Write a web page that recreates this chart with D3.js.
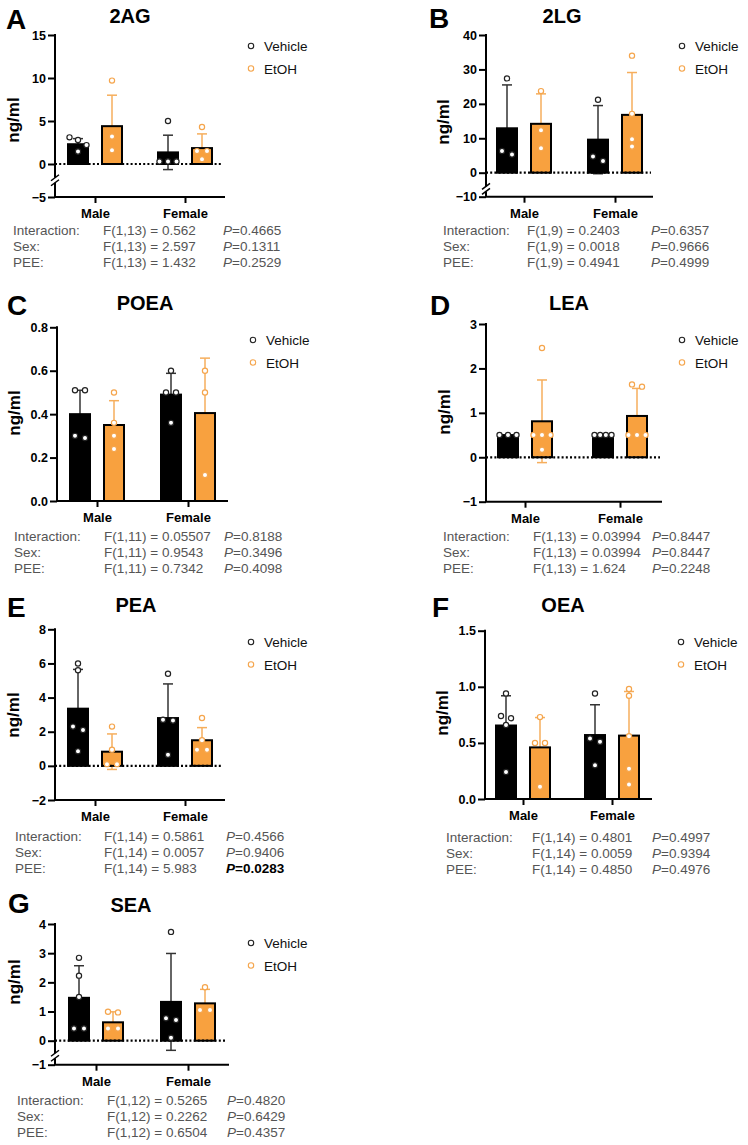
<!DOCTYPE html>
<html>
<meta charset="utf-8" />
<title>Endocannabinoid levels</title>
<head>
    <script src="https://d3js.org/d3.v7.min.js"></script>
    <style>
        body { margin: 0; background: #fff; }
        svg text { font-family: "Liberation Sans", Arial, sans-serif; }
    </style>
</head>
<body>
<div id="fig"></div>
<script type="text/javascript">
    // ---- data ----
    const letters = ["A", "B", "C", "D", "E", "F", "G"];
    const analytes = ["2AG", "2LG", "POEA", "LEA", "PEA", "OEA", "SEA"];
    const sexes = ["Male", "Female"];
    const treatments = ["Vehicle", "EtOH"];
    const yTicks = [
        [-5, 0, 5, 10, 15],
        [-10, 0, 10, 20, 30, 40],
        [0, 0.2, 0.4, 0.6, 0.8],
        [-1, 0, 1, 2, 3],
        [-2, 0, 2, 4, 6, 8],
        [0, 0.5, 1.0, 1.5],
        [-1, 0, 1, 2, 3, 4]
    ];
    const tickFormats = [".0f", ".0f", ".1f", ".0f", ".0f", ".1f", ".0f"];
    const axisBreaks = [-1.6, -4, null, null, null, null, -0.43];

    // order: Male Vehicle, Male EtOH, Female Vehicle, Female EtOH
    const means = [
        [2.3, 4.4, 1.35, 1.85],
        [12.9, 14.2, 9.6, 16.8],
        [0.40, 0.35, 0.49, 0.405],
        [0.5, 0.81, 0.5, 0.93],
        [3.35, 0.83, 2.8, 1.5],
        [0.655, 0.46, 0.57, 0.565],
        [1.47, 0.63, 1.33, 1.28]
    ];
    const sds = [
        [0.65, 3.6, 2.0, 1.65],
        [12.6, 8.7, 9.9, 12.3],
        [0.11, 0.112, 0.098, 0.253],
        [0, 0.93, 0, 0.62],
        [2.3, 1.04, 2.0, 0.74],
        [0.265, 0.266, 0.27, 0.393],
        [1.1, 0.36, 1.66, 0.48]
    ];
    const points = [
        [[3.1, 2.8, 2.2, 1.45], [9.7, 3.2, 1.6], [5.0, 0.3, 0.3, 0.3], [4.3, 1.5, 1.5, 0.55]],
        [[27.4, 6.3, 5.3], [23.7, 12.3, 7.1], [21.2, 4.7, 3.4], [34, 17.1, 9.7, 7.6]],
        [[0.51, 0.51, 0.30, 0.29], [0.50, 0.36, 0.30, 0.24], [0.60, 0.50, 0.50, 0.36], [0.60, 0.50, 0.12]],
        [[0.5, 0.5, 0.5], [2.46, 0.5, 0.5, 0.5, 0.17], [0.5, 0.5, 0.5, 0.5], [1.64, 1.59, 0.5, 0.5, 0.5]],
        [[6.0, 5.6, 2.3, 2.1, 0.85], [2.3, 0.95, 0.1, 0.1], [5.4, 2.7, 2.65, 0.65], [2.8, 1.5, 0.95, 0.95]],
        [[0.94, 0.74, 0.72, 0.66, 0.24], [0.73, 0.5, 0.5, 0.11], [0.94, 0.54, 0.51, 0.30], [0.98, 0.92, 0.56, 0.27, 0.13]],
        [[2.84, 2.23, 1.5, 0.42, 0.42], [0.99, 0.97, 0.42, 0.42], [3.73, 0.77, 0.71, 0.10], [1.83, 1.05, 1.05]]
    ];
    const statLabels = ["Interaction:", "Sex:", "PEE:"];
    const statF = [
        ["F(1,13) = 0.562", "F(1,13) = 2.597", "F(1,13) = 1.432"],
        ["F(1,9) = 0.2403", "F(1,9) = 0.0018", "F(1,9) = 0.4941"],
        ["F(1,11) = 0.05507", "F(1,11) = 0.9543", "F(1,11) = 0.7342"],
        ["F(1,13) = 0.03994", "F(1,13) = 0.03994", "F(1,13) = 1.624"],
        ["F(1,14) = 0.5861", "F(1,14) = 0.0057", "F(1,14) = 5.983"],
        ["F(1,14) = 0.4801", "F(1,14) = 0.0059", "F(1,14) = 0.4850"],
        ["F(1,12) = 0.5265", "F(1,12) = 0.2262", "F(1,12) = 0.6504"]
    ];
    const statP = [
        ["0.4665", "0.1311", "0.2529"],
        ["0.6357", "0.9666", "0.4999"],
        ["0.8188", "0.3496", "0.4098"],
        ["0.8447", "0.8447", "0.2248"],
        ["0.4566", "0.9406", "0.0283"],
        ["0.4997", "0.9394", "0.4976"],
        ["0.4820", "0.6429", "0.4357"]
    ];

    // ---- page layout (pixels) ----
    const layout = [
        {x0: 55,  xR: 225, yTop: 35,    yZero: 164,    yBot: 197,   gx: [95, 185],  letter: [6, 29],   title: [130, 23],  ylab: [19, 120],  leg: 46,  stat: 230,  cols: [13, 103, 223]},
        {x0: 486, xR: 653, yTop: 35,    yZero: 172.7,  yBot: 196.7, gx: [524, 615], letter: [429, 28], title: [562, 23],  ylab: [449, 122], leg: 46,  stat: 230,  cols: [443, 527, 651]},
        {x0: 57,  xR: 228, yTop: 327.3, yZero: null,   yBot: 501,   gx: [97, 188],  letter: [7, 315],  title: [145, 310], ylab: [20, 413],  leg: 340, stat: 536,  cols: [14, 104, 224]},
        {x0: 486, xR: 662, yTop: 324,   yZero: null,   yBot: 501.7, gx: [525, 620], letter: [430, 315], title: [569, 310], ylab: [450, 412], leg: 340, stat: 536,  cols: [443, 533, 652]},
        {x0: 55,  xR: 225, yTop: 629.3, yZero: null,   yBot: 800,   gx: [95, 185],  letter: [7, 617],  title: [136, 612], ylab: [19, 715],  leg: 642, stat: 836,  cols: [15, 104, 226]},
        {x0: 485, xR: 652, yTop: 630.7, yZero: null,   yBot: 799,   gx: [523, 612], letter: [432, 617], title: [563, 612], ylab: [448, 713], leg: 642, stat: 837,  cols: [446, 532, 652]},
        {x0: 55,  xR: 229, yTop: 924,   yZero: 1040.7, yBot: 1064.7, gx: [96, 188], letter: [8, 913],  title: [131, 912], ylab: [20, 982],  leg: 943, stat: 1100, cols: [17, 107, 227]}
    ];

    const barFill = {Vehicle: "#000000", EtOH: "#F8A13F"};
    const dotStroke = {Vehicle: "#222222", EtOH: "#F5A54C"};
    const errStroke = {Vehicle: "#333333", EtOH: "#F6AE5C"};

    const svg = d3.select("#fig").append("svg")
        .attr("width", 748)
        .attr("height", 1145);

    // spread points that sit at nearly the same height, centred on the bar
    function spread(vals, y) {
        const items = vals.map(v => ({v: v, py: y(v), dx: 0}))
            .sort((a, b) => a.py - b.py);
        let cluster = [];
        const flush = () => {
            const n = cluster.length;
            if (n > 1) {
                const step = Math.min(10, 17 / (n - 1));
                cluster.forEach((p, k) => p.dx = (k - (n - 1) / 2) * step);
            }
            cluster = [];
        };
        items.forEach(p => {
            if (cluster.length && p.py - cluster[cluster.length - 1].py >= 5.5) flush();
            cluster.push(p);
        });
        flush();
        return items;
    }

    analytes.forEach(function(name, i) {
        const L = layout[i];
        const g = svg.append("g");
        const ticks = yTicks[i];
        const lo = ticks[0], hi = ticks[ticks.length - 1];
        const brk = axisBreaks[i];
        let y;
        if (brk !== null) {
            const upper = d3.scaleLinear().domain([0, hi]).range([L.yZero, L.yTop]);
            y = d3.scaleLinear().domain([lo, brk, hi]).range([L.yBot, upper(brk), L.yTop]);
        } else {
            y = d3.scaleLinear().domain([lo, hi]).range([L.yBot, L.yTop]);
        }
        const x = d3.scalePoint().domain(sexes).range(L.gx);
        const sub = d3.scalePoint().domain(treatments).range([-17, 17]);
        const barW = 20;

        // panel letter and title
        g.append("text").attr("x", L.letter[0]).attr("y", L.letter[1])
            .attr("font-size", 28).attr("font-weight", "bold").text(letters[i]);
        g.append("text").attr("x", L.title[0]).attr("y", L.title[1])
            .attr("text-anchor", "middle")
            .attr("font-size", 20).attr("font-weight", "bold").text(name);

        // y axis
        const fmt = d3.format(tickFormats[i]);
        const yAxis = g.append("g")
            .attr("transform", `translate(${L.x0},0)`)
            .call(d3.axisLeft(y).tickValues(ticks).tickSize(7).tickSizeOuter(0).tickPadding(2)
                .tickFormat(d => d < 0 ? "\u2212" + fmt(-d) : fmt(d)));
        yAxis.select(".domain").remove();
        yAxis.selectAll("line").attr("stroke", "#000").attr("stroke-width", 2);
        yAxis.selectAll("text").attr("font-size", 12.5).attr("font-weight", "bold")
            .attr("fill", "#000")
            .style("font-family", "'Liberation Sans', Arial, sans-serif");
        if (brk !== null) {
            const b1 = y(brk), b2 = y(brk) + 5;
            g.append("line").attr("x1", L.x0).attr("x2", L.x0).attr("y1", L.yTop - 1).attr("y2", b1)
                .attr("stroke", "#000").attr("stroke-width", 2);
            g.append("line").attr("x1", L.x0).attr("x2", L.x0).attr("y1", b2).attr("y2", L.yBot)
                .attr("stroke", "#000").attr("stroke-width", 2);
            [b1, b2].forEach(b => g.append("line")
                .attr("x1", L.x0 - 4).attr("y1", b + 3).attr("x2", L.x0 + 4).attr("y2", b - 3)
                .attr("stroke", "#000").attr("stroke-width", 1.5));
        } else {
            g.append("line").attr("x1", L.x0).attr("x2", L.x0).attr("y1", L.yTop - 1).attr("y2", L.yBot)
                .attr("stroke", "#000").attr("stroke-width", 2);
        }

        // x axis
        const xAxis = g.append("g")
            .attr("transform", `translate(0,${L.yBot})`)
            .call(d3.axisBottom(x).tickSize(6).tickSizeOuter(0).tickPadding(6));
        xAxis.select(".domain").remove();
        xAxis.selectAll("line").attr("stroke", "#000").attr("stroke-width", 2);
        xAxis.selectAll("text").attr("font-size", 13).attr("font-weight", "bold")
            .attr("fill", "#000")
            .style("font-family", "'Liberation Sans', Arial, sans-serif");
        g.append("line").attr("x1", L.x0 - 1).attr("x2", L.xR).attr("y1", L.yBot).attr("y2", L.yBot)
            .attr("stroke", "#000").attr("stroke-width", 2);

        // y label
        g.append("text")
            .attr("transform", `translate(${L.ylab[0]},${L.ylab[1]}) rotate(-90)`)
            .attr("text-anchor", "middle")
            .attr("font-size", 17).attr("font-weight", "bold").text("ng/ml");

        // groups
        const groups = [];
        sexes.forEach((s, si) => treatments.forEach((t, ti) => {
            const k = si * 2 + ti;
            groups.push({sex: s, trt: t, mean: means[i][k], sd: sds[i][k], pts: points[i][k]});
        }));

        // error bars (behind bars)
        groups.forEach(d => {
            if (d.sd <= 0) return;
            const cx = x(d.sex) + sub(d.trt);
            const eg = g.append("g").attr("stroke", errStroke[d.trt]).attr("stroke-width", 1.5);
            eg.append("line").attr("x1", cx).attr("x2", cx)
                .attr("y1", y(d.mean - d.sd)).attr("y2", y(d.mean + d.sd));
            [d.mean - d.sd, d.mean + d.sd].forEach(v => eg.append("line")
                .attr("x1", cx - 5).attr("x2", cx + 5).attr("y1", y(v)).attr("y2", y(v)));
        });

        // bars
        g.selectAll("rect.bar").data(groups).enter().append("rect")
            .attr("class", "bar")
            .attr("x", d => x(d.sex) + sub(d.trt) - barW / 2)
            .attr("y", d => y(d.mean))
            .attr("width", barW)
            .attr("height", d => y(0) - y(d.mean))
            .attr("fill", d => barFill[d.trt])
            .attr("stroke", "#000")
            .attr("stroke-width", 2);

        // dotted zero line
        g.append("line").attr("x1", L.x0).attr("x2", L.xR - 2)
            .attr("y1", y(0)).attr("y2", y(0))
            .attr("stroke", "#000").attr("stroke-width", 2.2)
            .attr("stroke-dasharray", "2,2.2");

        // individual points
        groups.forEach(d => {
            const cx = x(d.sex) + sub(d.trt);
            spread(d.pts, y).forEach(p => {
                g.append("circle")
                    .attr("cx", cx + p.dx).attr("cy", p.py).attr("r", 2.6)
                    .attr("fill", "#fff")
                    .attr("stroke", dotStroke[d.trt])
                    .attr("stroke-width", 1.2);
            });
        });

        // legend
        treatments.forEach((t, ti) => {
            const ly = L.leg + ti * 22.5;
            g.append("circle").attr("cx", L.x0 + 196).attr("cy", ly).attr("r", 2.7)
                .attr("fill", "#fff").attr("stroke", dotStroke[t]).attr("stroke-width", 1.1);
            g.append("text").attr("x", L.x0 + 209).attr("y", ly + 5)
                .attr("font-size", 13.5).attr("fill", "#111").text(t);
        });

        // statistics
        statLabels.forEach((lab, r) => {
            const ty = L.stat + r * 16 + 5;
            const bold = (i === 4 && r === 2);
            g.append("text").attr("x", L.cols[0]).attr("y", ty)
                .attr("font-size", 13.5).attr("fill", "#555").text(lab);
            g.append("text").attr("x", L.cols[1]).attr("y", ty)
                .attr("font-size", 13.5).attr("fill", "#555").text(statF[i][r]);
            const pt = g.append("text").attr("x", L.cols[2]).attr("y", ty)
                .attr("font-size", 13.5)
                .attr("fill", bold ? "#000" : "#555")
                .attr("font-weight", bold ? "bold" : "normal");
            pt.append("tspan").attr("font-style", "italic").text("P");
            pt.append("tspan").text("=" + statP[i][r]);
        });
    });
</script>
</body>
</html>
